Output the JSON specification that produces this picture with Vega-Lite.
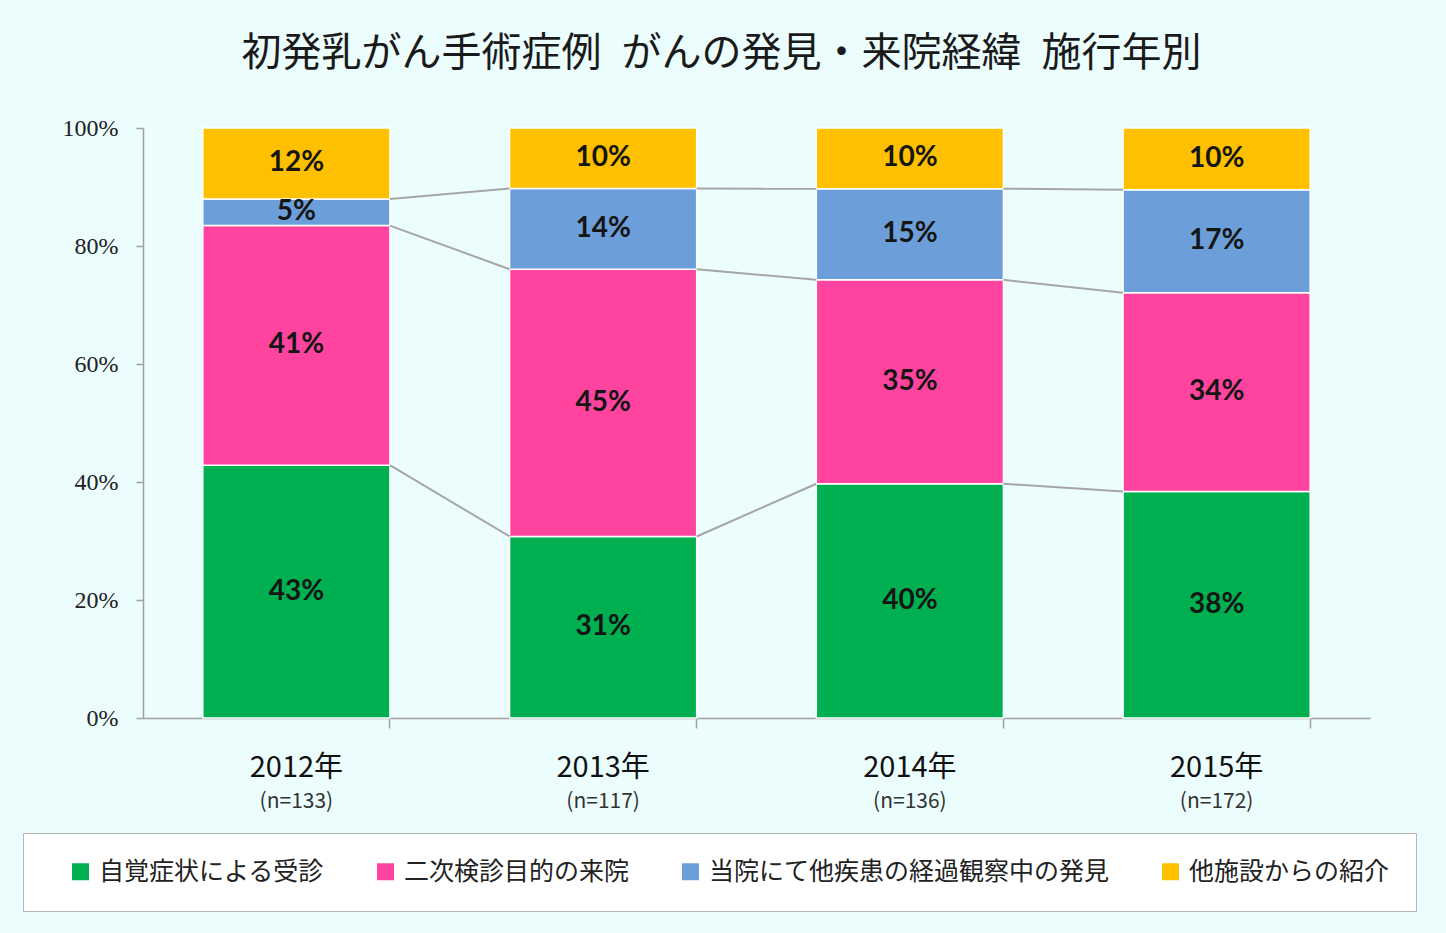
{
  "$schema": "https://vega.github.io/schema/vega-lite/v6.json",
  "width": 1227,
  "height": 590,
  "autosize": {"type": "none"},
  "padding": {"left": 143, "top": 128, "right": 76, "bottom": 215},
  "background": "#ebfdfd",
  "config": {"view": {"stroke": null}},
  "title": {
    "text": "初発乳がん手術症例\u2002がんの発見・来院経緯\u2002施行年別",
    "font": "Noto Sans CJK JP",
    "fontSize": 40,
    "fontWeight": "normal",
    "color": "#1a1a1a",
    "anchor": "middle",
    "frame": "group",
    "offset": 42,
    "dx": -35
  },
  "data": {
    "values": [
      {"year": "2012年", "cat": "自覚症状による受診", "rank": 1, "n": 57, "label": "43%"},
      {"year": "2012年", "cat": "二次検診目的の来院", "rank": 2, "n": 54, "label": "41%"},
      {"year": "2012年", "cat": "当院にて他疾患の経過観察中の発見", "rank": 3, "n": 6, "label": "5%"},
      {"year": "2012年", "cat": "他施設からの紹介", "rank": 4, "n": 16, "label": "12%"},
      {"year": "2013年", "cat": "自覚症状による受診", "rank": 1, "n": 36, "label": "31%"},
      {"year": "2013年", "cat": "二次検診目的の来院", "rank": 2, "n": 53, "label": "45%"},
      {"year": "2013年", "cat": "当院にて他疾患の経過観察中の発見", "rank": 3, "n": 16, "label": "14%"},
      {"year": "2013年", "cat": "他施設からの紹介", "rank": 4, "n": 12, "label": "10%"},
      {"year": "2014年", "cat": "自覚症状による受診", "rank": 1, "n": 54, "label": "40%"},
      {"year": "2014年", "cat": "二次検診目的の来院", "rank": 2, "n": 47, "label": "35%"},
      {"year": "2014年", "cat": "当院にて他疾患の経過観察中の発見", "rank": 3, "n": 21, "label": "15%"},
      {"year": "2014年", "cat": "他施設からの紹介", "rank": 4, "n": 14, "label": "10%"},
      {"year": "2015年", "cat": "自覚症状による受診", "rank": 1, "n": 66, "label": "38%"},
      {"year": "2015年", "cat": "二次検診目的の来院", "rank": 2, "n": 58, "label": "34%"},
      {"year": "2015年", "cat": "当院にて他疾患の経過観察中の発見", "rank": 3, "n": 30, "label": "17%"},
      {"year": "2015年", "cat": "他施設からの紹介", "rank": 4, "n": 18, "label": "10%"}
    ]
  },
  "resolve": {"axis": {"x": "independent"}},
  "layer": [
    {
      "mark": {"type": "bar", "stroke": "white", "strokeWidth": 1.5},
      "encoding": {
        "x": {
          "field": "year", "type": "nominal",
          "scale": {"paddingInner": 0.39, "paddingOuter": 0.195},
          "axis": {
            "orient": "bottom", "title": null, "labels": false, "bandPosition": 1,
            "ticks": true, "tickSize": 10, "tickColor": "#a0a0a0", "tickWidth": 1.5,
            "domain": true, "domainColor": "#a0a0a0", "domainWidth": 1.5, "grid": false
          }
        },
        "y": {
          "field": "n", "type": "quantitative", "stack": "normalize",
          "scale": {"domain": [0, 1]},
          "axis": {
            "title": null, "values": [0, 0.2, 0.4, 0.6, 0.8, 1], "format": ".0%",
            "labelFont": "Liberation Serif", "labelFontSize": 24, "labelColor": "#222222",
            "domainColor": "#a0a0a0", "domainWidth": 1.5, "tickColor": "#a0a0a0", "tickWidth": 1.5,
            "tickSize": 7, "labelPadding": 18, "grid": false
          }
        },
        "color": {
          "field": "cat", "type": "nominal",
          "scale": {
            "domain": ["自覚症状による受診", "二次検診目的の来院", "当院にて他疾患の経過観察中の発見", "他施設からの紹介"],
            "range": ["#00b050", "#ff449f", "#6c9fd9", "#ffc000"]
          },
          "legend": {
            "title": null, "orient": "none", "legendX": -120, "legendY": 705,
            "direction": "horizontal", "symbolType": "square", "symbolSize": 289,
            "symbolStrokeWidth": 0, "symbolOffset": 19, "labelFont": "Noto Sans CJK JP", "labelFontSize": 25,
            "labelColor": "#222222", "labelOffset": 6, "columnPadding": 29,
            "padding": 26, "fillColor": "white", "strokeColor": "#b5b5b5", "labelLimit": 600
          }
        },
        "order": {"field": "rank", "type": "quantitative", "sort": "ascending"}
      }
    },
    {
      "mark": {"type": "text", "font": "Lato", "fontWeight": "bold", "fontSize": 28, "color": "#151515", "baseline": "middle"},
      "encoding": {
        "x": {
          "field": "year", "type": "nominal",
          "axis": {
            "orient": "bottom", "title": null, "domain": false, "ticks": false, "grid": false,
            "labelAngle": 0, "labelFont": "Noto Sans CJK JP", "labelFontSize": 29,
            "labelColor": "#111111", "labelPadding": 35
          }
        },
        "y": {"field": "n", "type": "quantitative", "stack": "normalize", "bandPosition": 0.5},
        "order": {"field": "rank", "type": "quantitative", "sort": "ascending"},
        "detail": {"field": "cat"},
        "text": {"field": "label"}
      }
    },
    {
      "transform": [
        {"stack": "n", "groupby": ["year"], "sort": [{"field": "rank"}], "offset": "normalize", "as": ["s0", "s1"]},
        {"window": [{"op": "lead", "field": "s1", "as": "ns1"}, {"op": "lead", "field": "year", "as": "nyear"}], "groupby": ["cat"], "sort": [{"field": "year"}]},
        {"filter": "datum.nyear != null && datum.rank < 4"}
      ],
      "mark": {"type": "rule", "color": "#a6a6a6", "strokeWidth": 2, "xOffset": 93.5, "x2Offset": -93.5},
      "encoding": {
        "x": {
          "field": "year", "type": "nominal",
          "axis": {
            "orient": "bottom", "title": null, "domain": false, "ticks": false, "grid": false,
            "labelAngle": 0, "labelFont": "Noto Sans CJK JP", "labelFontSize": 21,
            "labelColor": "#333333", "labelPadding": 72,
            "labelExpr": "{'2012年': '(n=133)', '2013年': '(n=117)', '2014年': '(n=136)', '2015年': '(n=172)'}[datum.value]"
          }
        },
        "x2": {"field": "nyear"},
        "y": {"field": "s1", "type": "quantitative"},
        "y2": {"field": "ns1"}
      }
    }
  ]
}
